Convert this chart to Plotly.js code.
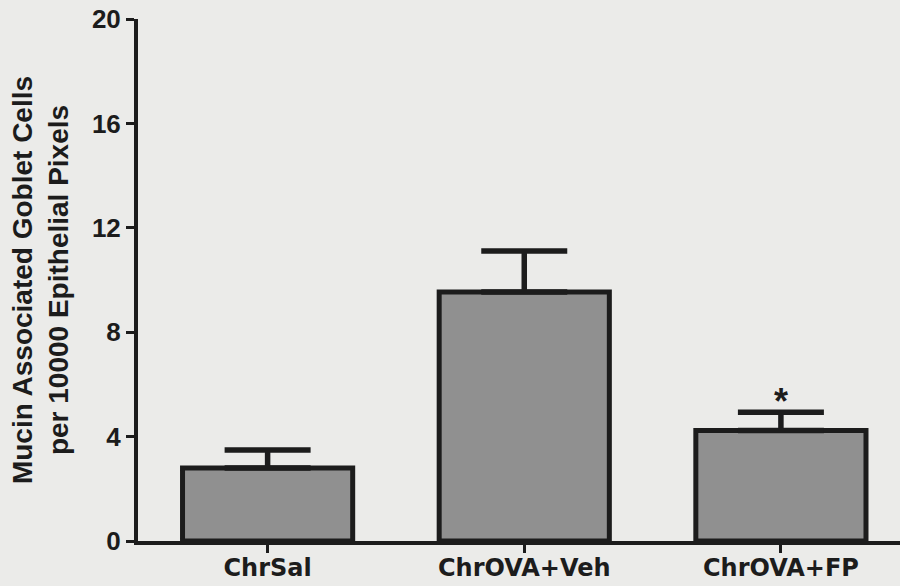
<!DOCTYPE html>
<html>
<head>
<meta charset="utf-8">
<script src="https://cdn.plot.ly/plotly-3.0.1.min.js"></script>
<style>
  html, body { margin: 0; padding: 0; background: #ebebe9; }
  #chart { width: 900px; height: 586px; }
</style>
</head>
<body>
<div id="chart"></div>
<script>
// Data
const categories = ["ChrSal", "ChrOVA+Veh", "ChrOVA+FP"];
const meanValues = [2.80, 9.54, 4.23];
const semValues = [0.69, 1.57, 0.70];
const zeroMinus = [0, 0, 0];
const yTickValues = [0, 4, 8, 12, 16, 20];
const yTickLabels = ["0", "4", "8", "12", "16", "20"];
const significanceMarks = ["", "", "*"];

const ink = "#1c1c1c";

const barTrace = {
  type: "bar",
  x: categories,
  y: meanValues,
  width: 0.663,
  marker: { color: "#909090", line: { color: ink, width: 5 } },
  error_y: {
    type: "data",
    symmetric: false,
    array: semValues,
    arrayminus: zeroMinus,
    color: ink,
    thickness: 5.5,
    width: 43
  },
  hoverinfo: "skip"
};

const annotations = [];
categories.forEach((c, i) => {
  if (significanceMarks[i]) {
    annotations.push({
      x: c, y: meanValues[i] + semValues[i],
      xref: "x", yref: "y",
      text: significanceMarks[i],
      showarrow: false,
      yanchor: "bottom",
      yshift: -12,
      font: { family: "Liberation Sans, Arial, sans-serif", size: 36, color: ink, weight: "bold" }
    });
  }
});

const layout = {
  width: 900,
  height: 586,
  margin: { l: 138, r: 0, t: 19, b: 45 },
  paper_bgcolor: "#ebebe9",
  plot_bgcolor: "rgba(0,0,0,0)",
  showlegend: false,
  xaxis: {
    type: "category",
    range: [-0.505, 2.464],
    showline: true,
    linecolor: ink,
    linewidth: 4,
    ticks: "outside",
    ticklen: 8,
    tickwidth: 3,
    tickcolor: ink,
    showgrid: false,
    zeroline: false,
    ticklabelstandoff: -6,
    tickfont: { family: "DejaVu Sans, sans-serif", size: 24, color: ink, weight: "bold" }
  },
  yaxis: {
    range: [0, 20],
    tickvals: yTickValues,
    ticktext: yTickLabels,
    showline: true,
    linecolor: ink,
    linewidth: 4,
    ticks: "outside",
    ticklen: 8,
    tickwidth: 3,
    tickcolor: ink,
    showgrid: false,
    zeroline: false,
    tickfont: { family: "Liberation Sans, Arial, sans-serif", size: 26, color: ink, weight: "bold" },
    title: {
      text: "Mucin Associated Goblet Cells<br>per 10000 Epithelial Pixels",
      font: { family: "Liberation Sans, Arial, sans-serif", size: 28, color: ink, weight: "bold" },
      standoff: 16
    },
    automargin: false
  },
  annotations: annotations
};

Plotly.newPlot("chart", [barTrace], layout, { staticPlot: true, displayModeBar: false });
</script>
</body>
</html>
